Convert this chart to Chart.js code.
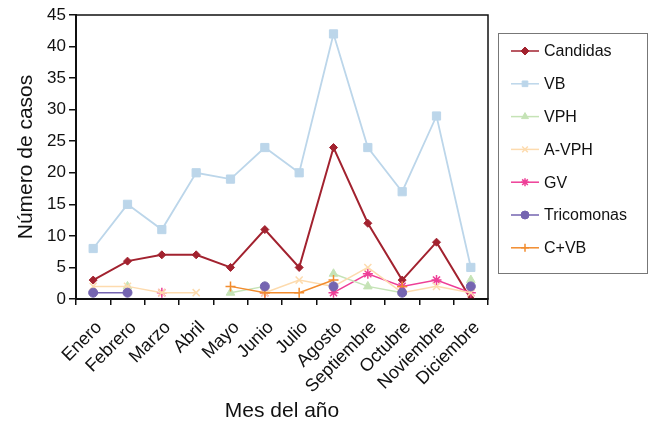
<!DOCTYPE html>
<html>
<head>
<meta charset="utf-8">
<script src="https://cdn.jsdelivr.net/npm/chart.js@4/dist/chart.umd.min.js"></script>
<style>
  html, body { margin: 0; padding: 0; background: #fff; }
  #wrap { width: 654px; height: 429px; position: relative; }
</style>
</head>
<body>
<div id="wrap"><canvas id="c" width="654" height="429"></canvas></div>
<script>
// Monthly case counts per diagnosis
const months = ['Enero', 'Febrero', 'Marzo', 'Abril', 'Mayo', 'Junio', 'Julio',
                'Agosto', 'Septiembre', 'Octubre', 'Noviembre', 'Diciembre'];
const candidas   = [3, 6, 7, 7, 5, 11, 5, 24, 12, 3, 9, 0];
const vb         = [8, 15, 11, 20, 19, 24, 20, 42, 24, 17, 29, 5];
const vph        = [null, 2, null, null, 1, 2, null, 4, 2, 1, null, 3];
const aVph       = [2, 2, 1, 1, null, 1, 3, 2, 5, 1, 2, 1];
const gv         = [null, null, 1, null, null, 1, null, 1, 4, 2, 3, 1];
const tricomonas = [1, 1, null, null, null, 2, null, 2, null, 1, null, 2];
const cVb        = [null, null, null, null, 2, 1, 1, 3, null, 2, null, null];
const yTicks     = [0, 5, 10, 15, 20, 25, 30, 35, 40, 45];

const FONT = '"Liberation Sans", Arial, Helvetica, sans-serif';

function series(label, data, color, style, radius, width) {
  return {
    label, data,
    borderColor: color, backgroundColor: color,
    pointStyle: style, pointRadius: radius, pointHoverRadius: radius,
    pointBorderColor: color, pointBackgroundColor: color,
    pointBorderWidth: (style === 'crossRot' || style === 'cross' || style === 'star') ? 1.5 : 1,
    borderWidth: width, tension: 0, spanGaps: false, fill: false
  };
}

const datasets = [
  series('Tricomonas', tricomonas, '#7565b1', 'circle', 4.5, 1.5),
  series('C+VB', cVb, '#f28c2e', 'cross', 5, 1.5),
  series('A-VPH', aVph, '#fddbae', 'crossRot', 5, 1.5),
  series('VPH', vph, '#c5e3b6', 'triangle', 5, 1.5),
  series('GV', gv, '#ee3f97', 'star', 5, 1.5),
  series('VB', vb, '#bcd6ea', 'rect', 5.8, 1.8),
  series('Candidas', candidas, '#a2222f', 'rectRot', 4, 2)
];
const legendOrder = ['Candidas', 'VB', 'VPH', 'A-VPH', 'GV', 'Tricomonas', 'C+VB'];

// Black frame round the plotting area
const frame = {
  id: 'frame',
  afterDatasetsDraw(chart) {
    const { ctx, chartArea: a } = chart;
    ctx.save();
    ctx.strokeStyle = '#111';
    ctx.lineWidth = 1.5;
    ctx.strokeRect(a.left, a.top, a.right - a.left, a.bottom - a.top);
    ctx.restore();
  }
};

// Boxed legend on the right
const boxLegend = {
  id: 'boxLegend',
  afterDraw(chart) {
    const { ctx } = chart;
    const x0 = 498, y0 = 33, w = 149, h = 240;
    ctx.save();
    ctx.fillStyle = '#fff';
    ctx.fillRect(x0, y0, w, h);
    ctx.strokeStyle = '#777';
    ctx.lineWidth = 1;
    ctx.strokeRect(x0 + 0.5, y0 + 0.5, w, h);
    ctx.font = '16px ' + FONT;
    ctx.textBaseline = 'middle';
    ctx.textAlign = 'left';
    legendOrder.forEach((name, i) => {
      const ds = chart.data.datasets.find(d => d.label === name);
      const y = 51 + i * 32.8;
      ctx.strokeStyle = ds.borderColor;
      ctx.lineWidth = 1.5;
      ctx.beginPath();
      ctx.moveTo(511, y);
      ctx.lineTo(539, y);
      ctx.stroke();
      ctx.fillStyle = ds.pointBackgroundColor;
      ctx.strokeStyle = ds.pointBorderColor;
      ctx.lineWidth = ds.pointBorderWidth;
      Chart.helpers.drawPoint(ctx, { pointStyle: ds.pointStyle, radius: 4, borderWidth: ds.pointBorderWidth, rotation: 0 }, 525, y);
      ctx.fillStyle = '#111';
      ctx.fillText(name, 544, y + 1);
    });
    ctx.restore();
  }
};

new Chart(document.getElementById('c'), {
  type: 'line',
  data: { labels: months, datasets },
  plugins: [frame, boxLegend],
  options: {
    responsive: false,
    animation: false,
    devicePixelRatio: 1,
    layout: { padding: { left: 0, right: 166, top: 15, bottom: 0 } },
    plugins: { legend: { display: false }, tooltip: { enabled: false } },
    elements: { line: { borderCapStyle: 'butt' } },
    scales: {
      x: {
        offset: true,
        grid: { offset: true, drawOnChartArea: false, drawTicks: true, tickLength: 6, color: '#111', lineWidth: 1.5 },
        border: { display: true, color: '#111', width: 2 },
        ticks: { color: '#111', font: { family: FONT, size: 18 }, maxRotation: 45, minRotation: 45, autoSkip: false, padding: 12, labelOffset: 6 },
        title: { display: true, text: 'Mes del año', color: '#111', font: { family: FONT, size: 21 }, padding: { top: 0, bottom: 5 } },
        afterFit(scale) { scale.height = 130; }
      },
      y: {
        min: 0, max: 45,
        afterBuildTicks(scale) { scale.ticks = yTicks.map(v => ({ value: v })); },
        grid: { drawOnChartArea: false, drawTicks: true, tickLength: 7, color: '#111', lineWidth: 1.5 },
        border: { display: true, color: '#111', width: 2 },
        ticks: { color: '#111', font: { family: FONT, size: 17 }, padding: 3 },
        title: { display: true, text: 'Número de casos', color: '#111', font: { family: FONT, size: 21 }, padding: { top: 14, bottom: 0 } },
        afterFit(scale) { scale.width = 76; }
      }
    }
  }
});
</script>
</body>
</html>
